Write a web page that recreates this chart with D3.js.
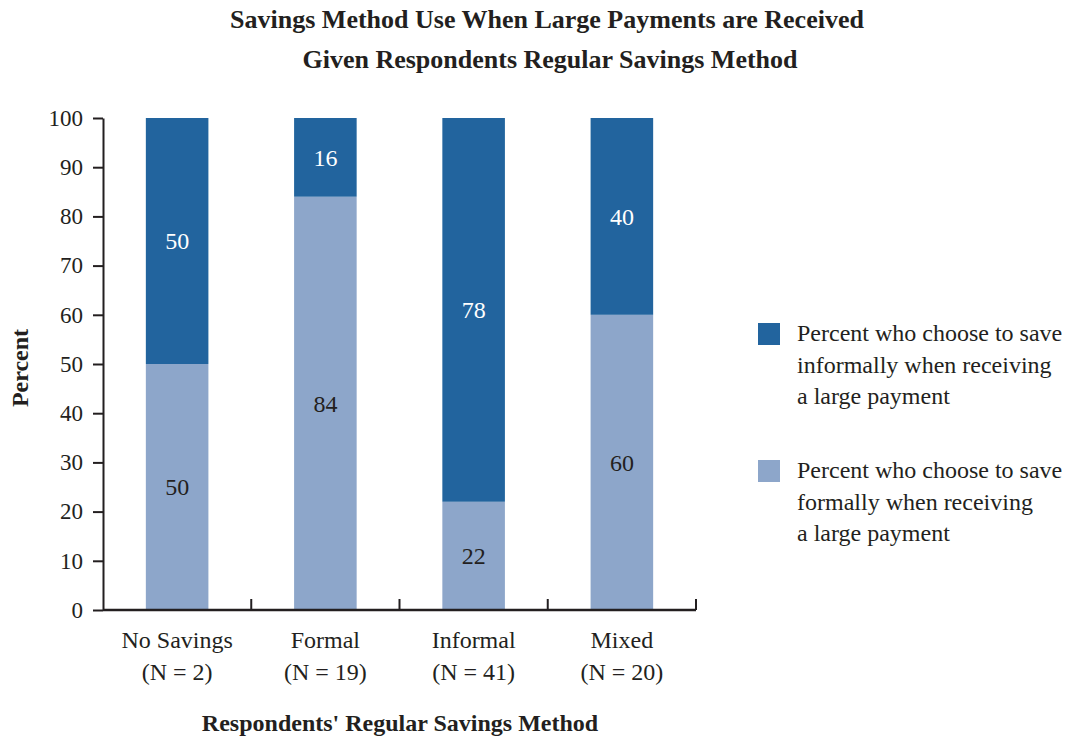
<!DOCTYPE html>
<html>
<head>
<meta charset="utf-8">
<script src="https://cdn.jsdelivr.net/npm/d3@7"></script>
<style>
  body { margin: 0; background: #fff; }
  text { font-family: "Liberation Serif", "Times New Roman", serif; fill: #231f20; }
</style>
</head>
<body>
<svg id="chart" width="1065" height="738"></svg>
<script>
// Regular savings method groups and their sample sizes
const categories = ["No Savings", "Formal", "Informal", "Mixed"];
const sampleSizes = ["(N = 2)", "(N = 19)", "(N = 41)", "(N = 20)"];
// Percent saving formally / informally when a large payment arrives
const formalPct = [50, 84, 22, 60];
const informalPct = [50, 16, 78, 40];
const yTicks = [0, 10, 20, 30, 40, 50, 60, 70, 80, 90, 100];
const legendLabels = [
  ["Percent who choose to save", "informally when receiving", "a large payment"],
  ["Percent who choose to save", "formally when receiving", "a large payment"]
];

const colInformal = "#22649e";
const colFormal = "#8da6ca";

const svg = d3.select("#chart");
const plotLeft = 103, plotRight = 696, plotTop = 118, plotBottom = 610;

const x = d3.scaleBand().domain(categories).range([plotLeft, plotRight])
  .paddingInner(0.578).paddingOuter(0.289);
const step = x.step();
const y = d3.scaleLinear().domain([0, 100]).range([plotBottom, plotTop]);

// stacked data: formal at the bottom, informal on top
const rows = categories.map((c, i) => ({ cat: c, formal: formalPct[i], informal: informalPct[i] }));
const stack = d3.stack().keys(["formal", "informal"])(rows);
const colors = { formal: colFormal, informal: colInformal };

const g = svg.append("g");
stack.forEach(layer => {
  g.selectAll(null).data(layer).enter().append("rect")
    .attr("x", d => x(d.data.cat))
    .attr("width", x.bandwidth())
    .attr("y", d => y(d[1]))
    .attr("height", d => y(d[0]) - y(d[1]))
    .attr("fill", colors[layer.key]);
  g.selectAll(null).data(layer).enter().append("text")
    .attr("x", d => x(d.data.cat) + x.bandwidth() / 2)
    .attr("y", d => (y(d[0]) + y(d[1])) / 2)
    .attr("dy", "0.35em")
    .attr("text-anchor", "middle")
    .attr("font-size", 24)
    .style("fill", layer.key === "informal" ? "#ffffff" : "#231f20")
    .text(d => d.data[layer.key]);
});

// y axis
const yAxis = svg.append("g").attr("transform", `translate(${plotLeft},0)`)
  .call(d3.axisLeft(y).tickValues(yTicks).tickSize(10).tickPadding(10).tickSizeOuter(0));
yAxis.select(".domain").attr("stroke", "#231f20").attr("stroke-width", 2);
yAxis.selectAll(".tick line").attr("stroke", "#231f20").attr("stroke-width", 2);
yAxis.selectAll(".tick text").attr("font-size", 23).attr("font-family", "Liberation Serif").style("fill", "#231f20");

// x axis: baseline with upward ticks at band boundaries
const boundaries = d3.range(categories.length + 1).map(i => plotLeft + i * step);
svg.append("line").attr("x1", plotLeft).attr("x2", plotRight).attr("y1", plotBottom).attr("y2", plotBottom)
  .attr("stroke", "#231f20").attr("stroke-width", 2.5);
svg.selectAll(null).data(boundaries.slice(1)).enter().append("line")
  .attr("x1", d => d).attr("x2", d => d)
  .attr("y1", plotBottom).attr("y2", plotBottom - 11)
  .attr("stroke", "#231f20").attr("stroke-width", 2);

// category labels
const catLab = svg.append("g");
categories.forEach((c, i) => {
  const cx = x(c) + x.bandwidth() / 2;
  catLab.append("text").attr("x", cx).attr("y", 648).attr("text-anchor", "middle")
    .attr("font-size", 24).text(c);
  catLab.append("text").attr("x", cx).attr("y", 680).attr("text-anchor", "middle")
    .attr("font-size", 24).text(sampleSizes[i]);
});

// titles
svg.append("text").attr("x", 547).attr("y", 28).attr("text-anchor", "middle")
  .attr("font-size", 26).attr("font-weight", "bold").text("Savings Method Use When Large Payments are Received");
svg.append("text").attr("x", 550).attr("y", 68).attr("text-anchor", "middle")
  .attr("font-size", 26).attr("font-weight", "bold").text("Given Respondents Regular Savings Method");
svg.append("text").attr("x", 400).attr("y", 731).attr("text-anchor", "middle")
  .attr("font-size", 24).attr("font-weight", "bold").text("Respondents' Regular Savings Method");
svg.append("text").attr("transform", "translate(28,368) rotate(-90)").attr("text-anchor", "middle")
  .attr("font-size", 24).attr("font-weight", "bold").text("Percent");

// legend
const legendColors = [colInformal, colFormal];
const legendTops = [323, 460];
legendLabels.forEach((lines, i) => {
  const lg = svg.append("g");
  lg.append("rect").attr("x", 758).attr("y", legendTops[i]).attr("width", 22).attr("height", 22)
    .attr("fill", legendColors[i]);
  lines.forEach((t, j) => {
    lg.append("text").attr("x", 797).attr("y", legendTops[i] + 18 + j * 31.7)
      .attr("font-size", 24).text(t);
  });
});
</script>
</body>
</html>
